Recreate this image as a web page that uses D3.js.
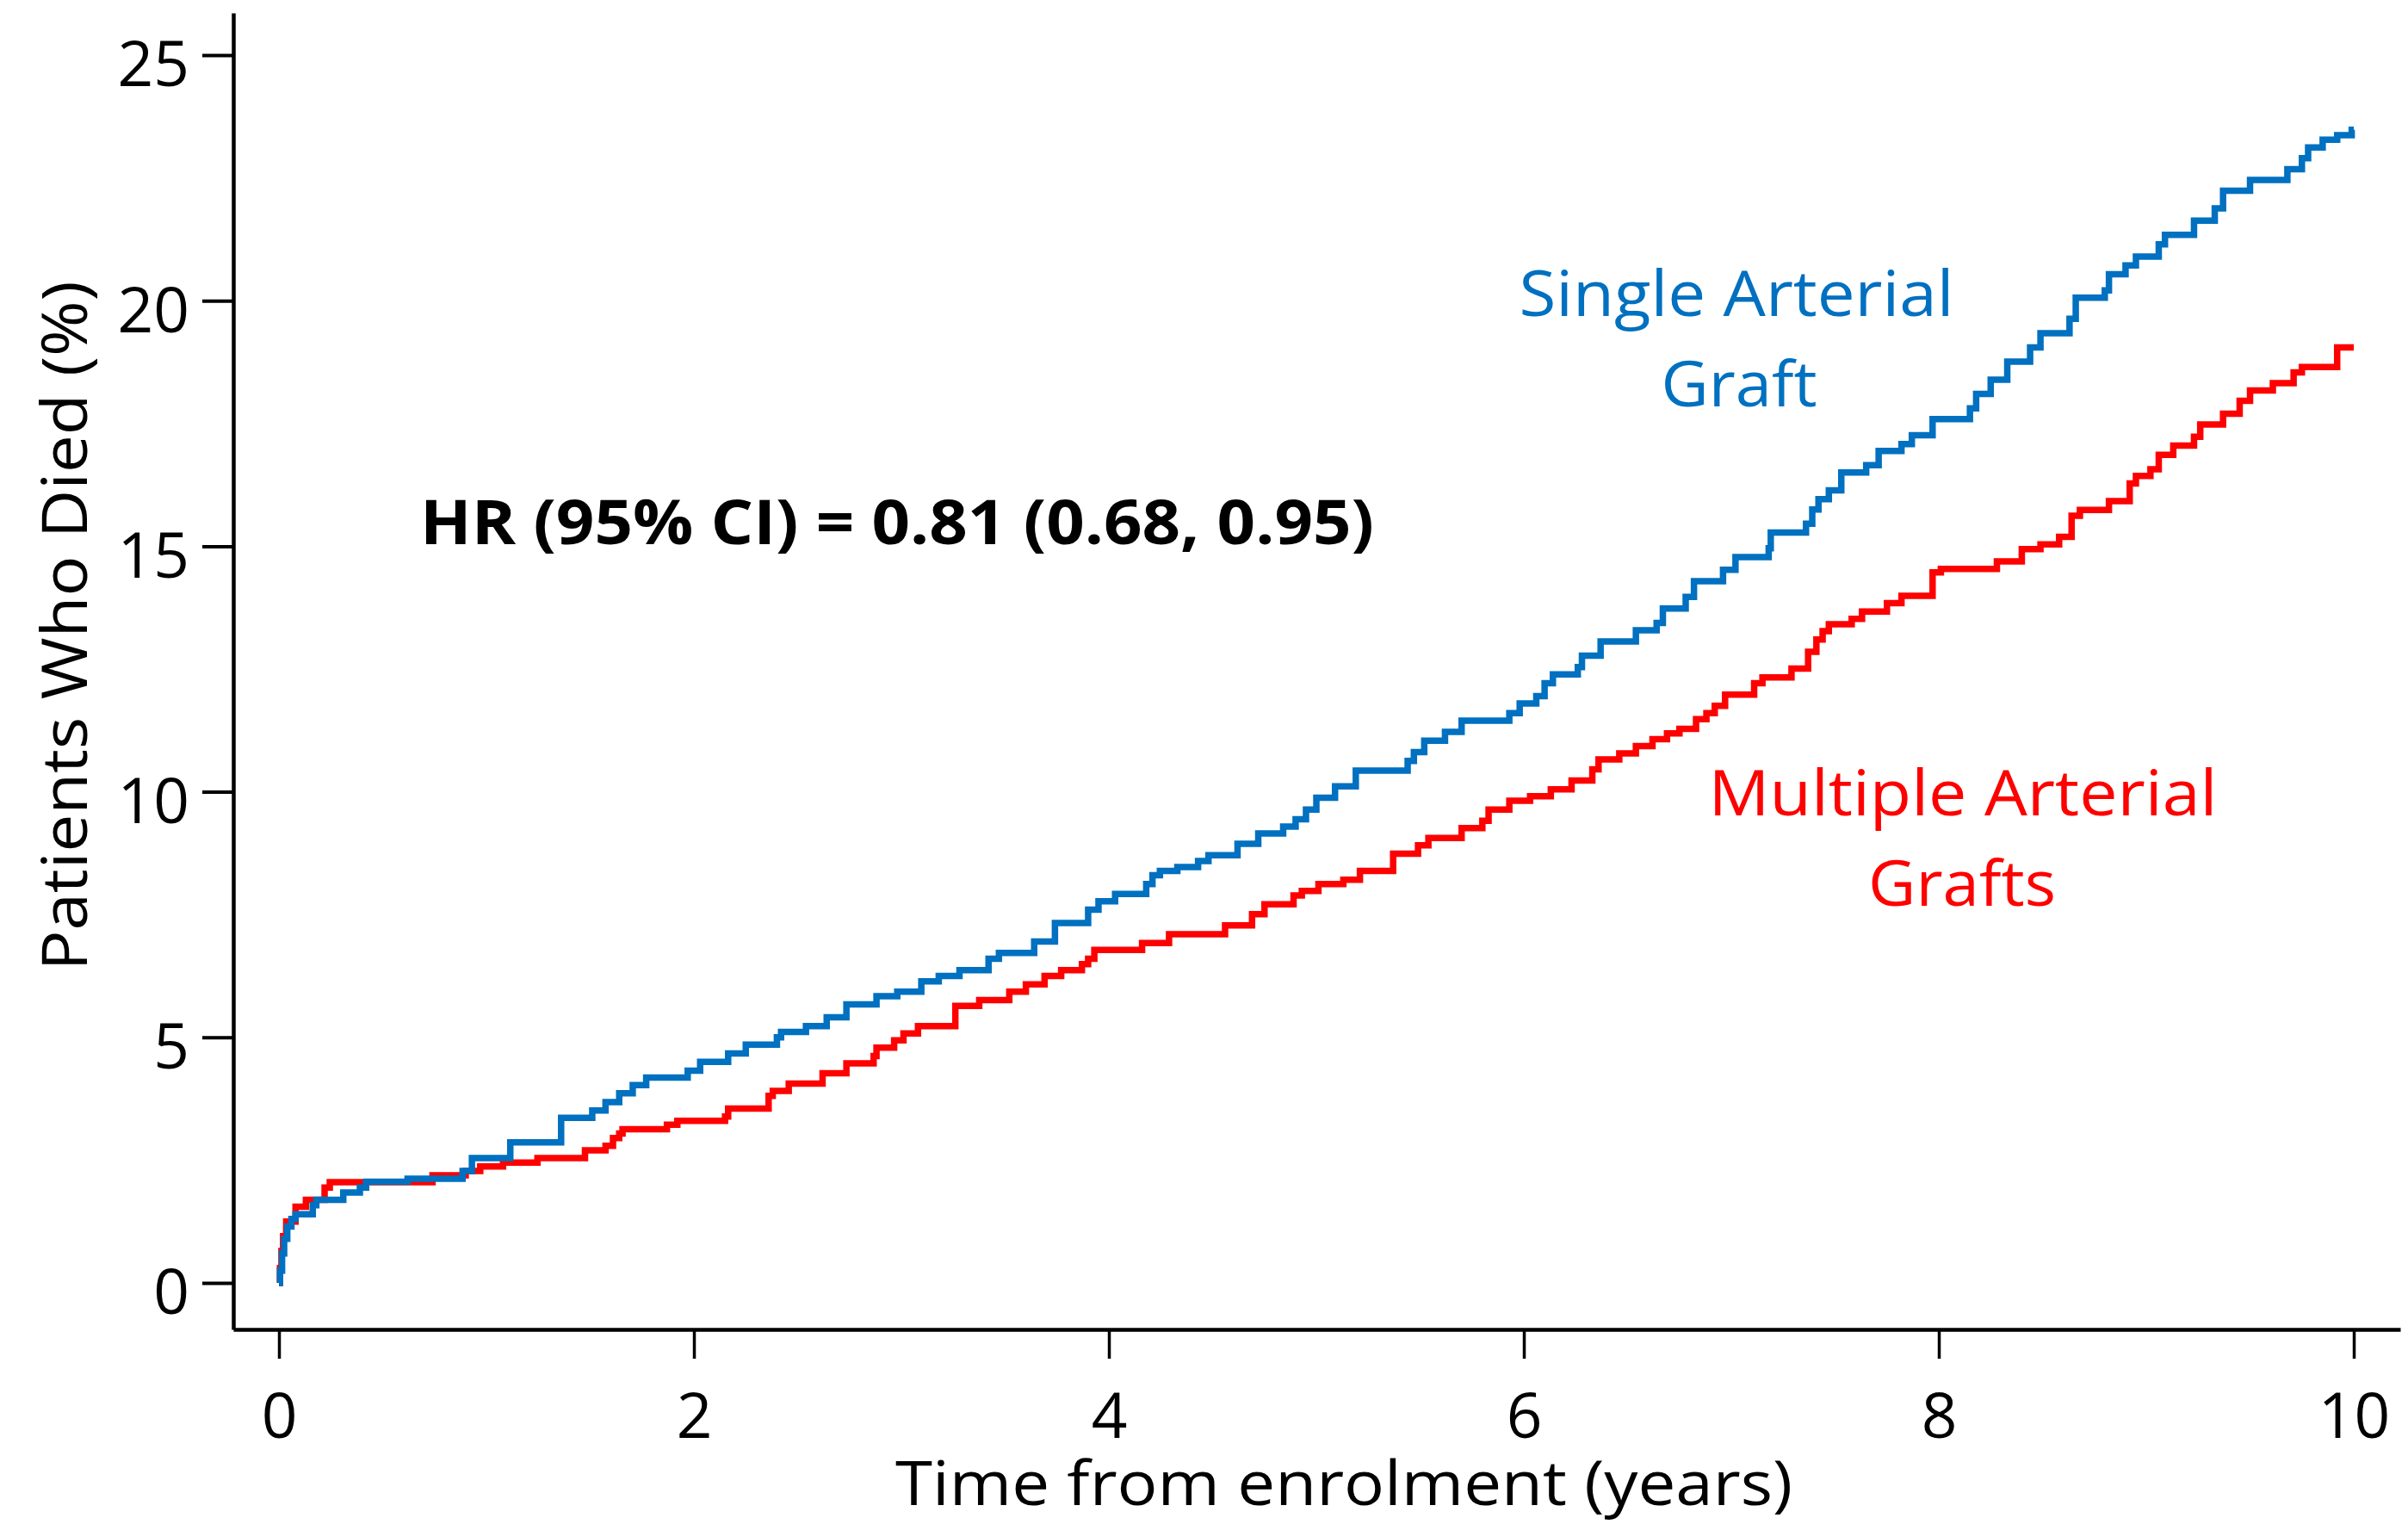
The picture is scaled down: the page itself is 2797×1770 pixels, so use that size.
<!DOCTYPE html>
<html>
<head>
<meta charset="utf-8">
<script src="https://cdn.jsdelivr.net/npm/d3@7/dist/d3.min.js"></script>
<style>
  html, body { margin: 0; padding: 0; background: #ffffff; }
  svg { display: block; }
  text { font-family: "Open Sans", "Noto Sans", sans-serif; }
</style>
</head>
<body>
<script>
// Cumulative mortality (%) by years from enrolment, step points [year, percent]
const singleTimes = [0, 0.005, 0.015, 0.025, 0.04, 0.06, 0.08, 0.163, 0.18, 0.31, 0.39, 0.42, 0.62, 0.885, 0.93,
  1.115, 1.36, 1.51, 1.574, 1.64, 1.705, 1.77, 1.97, 2.03, 2.165, 2.25, 2.40, 2.42, 2.54, 2.64, 2.735, 2.88, 2.98,
  3.096, 3.18, 3.28, 3.42, 3.47, 3.64, 3.74, 3.90, 3.95, 4.03, 4.18, 4.21, 4.246, 4.33, 4.43, 4.48, 4.62, 4.72,
  4.84, 4.90, 4.95, 5.00, 5.09, 5.19, 5.44, 5.47, 5.52, 5.62, 5.70, 5.93, 5.98, 6.06, 6.10, 6.14, 6.26, 6.28,
  6.37, 6.54, 6.64, 6.67, 6.78, 6.82, 6.96, 7.02, 7.18, 7.19, 7.36, 7.39, 7.42, 7.47, 7.53, 7.65, 7.71, 7.82,
  7.87, 7.97, 8.15, 8.18, 8.25, 8.33, 8.44, 8.49, 8.63, 8.66, 8.80, 8.82, 8.90, 8.95, 9.06, 9.09, 9.23, 9.33,
  9.37, 9.50, 9.68, 9.75, 9.78, 9.85, 9.92, 9.99, 10.0];
const singleValues = [0, 0.25, 0.6, 0.9, 1.15, 1.3, 1.40, 1.58, 1.69, 1.84, 1.94, 2.06, 2.12, 2.28, 2.54,
  2.86, 3.36, 3.51, 3.68, 3.86, 4.03, 4.18, 4.32, 4.50, 4.67, 4.85, 5.0, 5.11, 5.23, 5.41, 5.67, 5.84, 5.93,
  6.14, 6.25, 6.37, 6.60, 6.72, 6.95, 7.33, 7.60, 7.77, 7.92, 8.12, 8.30, 8.39, 8.47, 8.59, 8.71, 8.94, 9.15,
  9.29, 9.44, 9.64, 9.88, 10.11, 10.43, 10.63, 10.81, 11.04, 11.22, 11.45, 11.60, 11.80, 11.95, 12.21, 12.39, 12.54, 12.77,
  13.06, 13.29, 13.44, 13.73, 13.97, 14.29, 14.52, 14.78, 14.96, 15.28, 15.46, 15.75, 15.96, 16.14, 16.50, 16.65, 16.94, 17.08,
  17.26, 17.59, 17.81, 18.10, 18.39, 18.76, 19.05, 19.34, 19.63, 20.06, 20.21, 20.54, 20.72, 20.90, 21.15, 21.34, 21.63, 21.88,
  22.24, 22.46, 22.68, 22.90, 23.12, 23.28, 23.37, 23.48, 23.48];

const multipleTimes = [0, 0.005, 0.012, 0.02, 0.035, 0.08, 0.13, 0.22, 0.245, 0.74, 0.90, 0.97, 1.08, 1.246,
  1.475, 1.574, 1.61, 1.64, 1.656, 1.87, 1.92, 2.15, 2.165, 2.36, 2.38, 2.457, 2.62, 2.735, 2.866, 2.88, 2.965,
  3.01, 3.08, 3.26, 3.375, 3.52, 3.60, 3.69, 3.77, 3.87, 3.90, 3.93, 4.16, 4.29, 4.56, 4.69, 4.75, 4.89, 4.93,
  5.01, 5.13, 5.21, 5.37, 5.49, 5.54, 5.70, 5.80, 5.83, 5.93, 6.03, 6.13, 6.23, 6.33, 6.36, 6.46, 6.54, 6.62,
  6.69, 6.75, 6.83, 6.88, 6.92, 6.97, 7.11, 7.15, 7.29, 7.37, 7.41, 7.44, 7.47, 7.58, 7.63, 7.75, 7.82, 7.97,
  8.01, 8.28, 8.40, 8.49, 8.58, 8.64, 8.68, 8.82, 8.92, 8.95, 9.02, 9.06, 9.13, 9.23, 9.26, 9.37, 9.45, 9.50,
  9.61, 9.71, 9.75, 9.92, 10.0];
const multipleValues = [0, 0.3, 0.65, 0.95, 1.25, 1.55, 1.69, 1.94, 2.05, 2.19, 2.28, 2.37, 2.45, 2.54,
  2.70, 2.79, 2.95, 3.04, 3.13, 3.22, 3.30, 3.39, 3.55, 3.81, 3.91, 4.06, 4.27, 4.47, 4.62, 4.79, 4.94,
  5.08, 5.23, 5.64, 5.76, 5.93, 6.08, 6.25, 6.37, 6.49, 6.60, 6.78, 6.92, 7.10, 7.28, 7.51, 7.71, 7.89, 7.98,
  8.12, 8.21, 8.39, 8.74, 8.91, 9.06, 9.26, 9.41, 9.64, 9.82, 9.91, 10.05, 10.23, 10.46, 10.66, 10.78, 10.93, 11.07,
  11.19, 11.28, 11.48, 11.60, 11.75, 11.98, 12.21, 12.33, 12.51, 12.85, 13.1, 13.27, 13.41, 13.52, 13.67, 13.84, 13.99, 14.47,
  14.54, 14.69, 14.94, 15.04, 15.19, 15.62, 15.74, 15.92, 16.28, 16.43, 16.57, 16.86, 17.05, 17.23, 17.48, 17.70, 17.96, 18.17,
  18.32, 18.54, 18.65, 19.05, 19.05];

const xTickValues = [0, 2, 4, 6, 8, 10];
const yTickValues = [0, 5, 10, 15, 20, 25];

const hrText = "HR (95% CI) = 0.81 (0.68, 0.95)";

const W = 2797, H = 1770;
const BLUE = "#0070C0", RED = "#FF0000";

const svg = d3.select("body").append("svg")
  .attr("width", W).attr("height", H)
  .attr("viewBox", `0 0 ${W} ${H}`);

// Axis frame extends a little beyond the data range on both axes
const x = d3.scaleLinear().domain([-0.22, 10.224]).range([271, 2788]);
const y = d3.scaleLinear().domain([-0.947, 25.86]).range([1544, 15]);

const tickFont = 73;

// Y axis
const yAxis = svg.append("g")
  .attr("transform", `translate(${x(-0.22)},0)`)
  .call(d3.axisLeft(y).tickValues(yTickValues).tickSize(36).tickSizeOuter(0).tickPadding(15));
yAxis.select(".domain").attr("stroke", "#000").attr("stroke-width", 4.5);
yAxis.selectAll(".tick line").attr("stroke", "#000").attr("stroke-width", 4);
yAxis.selectAll(".tick text")
  .attr("font-size", tickFont).attr("fill", "#000")
  .attr("font-family", "'Open Sans', 'Noto Sans', sans-serif")
  .attr("dy", "0.49em");

// X axis
const xAxis = svg.append("g")
  .attr("transform", `translate(0,${y(-0.947)})`)
  .call(d3.axisBottom(x).tickValues(xTickValues).tickSize(34).tickSizeOuter(0).tickPadding(40));
xAxis.select(".domain").attr("stroke", "#000").attr("stroke-width", 4.5);
xAxis.selectAll(".tick line").attr("stroke", "#000").attr("stroke-width", 3.5);
xAxis.selectAll(".tick text")
  .attr("font-size", tickFont).attr("fill", "#000")
  .attr("font-family", "'Open Sans', 'Noto Sans', sans-serif")
  .attr("dy", "0.71em");

// Axis titles
svg.append("text")
  .attr("x", 1561).attr("y", 1748)
  .attr("text-anchor", "middle")
  .attr("font-size", 72).attr("fill", "#000")
  .attr("textLength", 1042).attr("lengthAdjust", "spacingAndGlyphs")
  .text("Time from enrolment (years)");

svg.append("text")
  .attr("transform", "translate(101,727) rotate(-90)")
  .attr("text-anchor", "middle")
  .attr("font-size", 74).attr("fill", "#000")
  .attr("textLength", 801).attr("lengthAdjust", "spacingAndGlyphs")
  .text("Patients Who Died (%)");

// Step curves
const line = d3.line()
  .x(d => x(d[0]))
  .y(d => y(d[1]))
  .curve(d3.curveStepAfter);

const multipleData = d3.zip(multipleTimes, multipleValues);
const singleData = d3.zip(singleTimes, singleValues);

svg.append("path")
  .datum(multipleData)
  .attr("d", line)
  .attr("fill", "none")
  .attr("stroke", RED)
  .attr("stroke-width", 7.5);

svg.append("path")
  .datum(singleData)
  .attr("d", line)
  .attr("fill", "none")
  .attr("stroke", BLUE)
  .attr("stroke-width", 7.5);

// Hazard ratio annotation
svg.append("text")
  .attr("x", 488).attr("y", 632)
  .attr("font-size", 72).attr("font-weight", 700).attr("fill", "#000")
  .attr("textLength", 1108).attr("lengthAdjust", "spacingAndGlyphs")
  .text(hrText);

// Series labels
function seriesLabel(lines, color) {
  lines.forEach(l => {
    svg.append("text")
      .attr("x", l.cx).attr("y", l.base)
      .attr("text-anchor", "middle")
      .attr("font-size", 74).attr("fill", color)
      .attr("textLength", l.w).attr("lengthAdjust", "spacingAndGlyphs")
      .text(l.t);
  });
}
seriesLabel([
  { t: "Single Arterial", cx: 2017, base: 367, w: 505 },
  { t: "Graft", cx: 2020, base: 472, w: 181 }
], BLUE);
seriesLabel([
  { t: "Multiple Arterial", cx: 2280, base: 947, w: 591 },
  { t: "Grafts", cx: 2279, base: 1052, w: 218 }
], RED);
</script>
</body>
</html>
